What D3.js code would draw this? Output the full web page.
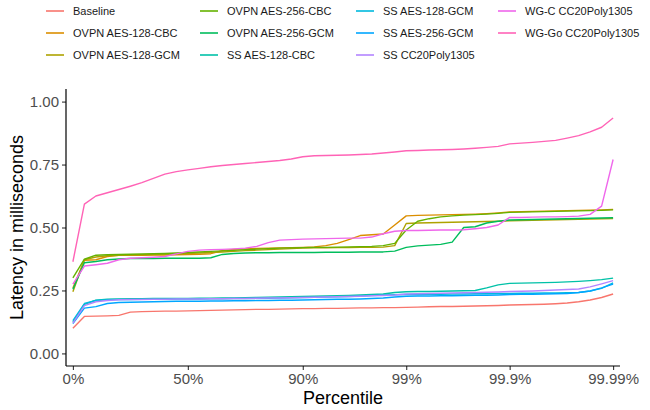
<!DOCTYPE html>
<html>
<head>
<meta charset="utf-8">
<script src="https://cdn.jsdelivr.net/npm/d3@7"></script>
<style>
    html, body { margin: 0; padding: 0; background: #fff; }
    svg { display: block; font-family: 'Liberation Sans', Arial, sans-serif; }
</style>
</head>
<body>
<div id="chart"></div>
<script>
// percentile categories (discrete x axis, 48 steps)
const percentiles = [
    '0', '5', '10', '15', '20', '25', '30', '35', '40', '45', '50',
    '54', '58', '62', '66', '70', '74', '78', '82', '86', '90',
    '91', '92', '93', '94', '95', '96', '97', '98', '99',
    '99.1', '99.2', '99.3', '99.4', '99.5', '99.6', '99.7', '99.8', '99.9',
    '99.91', '99.92', '99.93', '99.94', '99.95', '99.96', '99.97', '99.98', '99.99'
];
const xTicks = [ '0', '50', '90', '99', '99.9', '99.99' ];
const yTicks = [ 0, 0.25, 0.5, 0.75, 1 ];

const seriesNames = [
    'Baseline', 'OVPN AES-128-CBC', 'OVPN AES-128-GCM', 'OVPN AES-256-CBC',
    'OVPN AES-256-GCM', 'SS AES-128-CBC', 'SS AES-128-GCM', 'SS AES-256-GCM',
    'SS CC20Poly1305', 'WG-C CC20Poly1305', 'WG-Go CC20Poly1305'
];
const seriesColors = [
    '#F8766D', '#DB8E00', '#AEA200', '#64B200', '#00BD5C', '#00C1A7',
    '#00BADE', '#00A6FF', '#B385FF', '#EF67EB', '#FF63B6'
];

// latency in ms, one value per percentile
const baseline = [
    0.100, 0.147, 0.148, 0.149, 0.151, 0.164, 0.166, 0.167, 0.168, 0.168, 0.169,
    0.170, 0.171, 0.172, 0.173, 0.174, 0.175, 0.175, 0.176, 0.177, 0.178,
    0.178, 0.179, 0.179, 0.180, 0.181, 0.181, 0.182, 0.182, 0.183,
    0.184, 0.185, 0.186, 0.186, 0.187, 0.188, 0.189, 0.190, 0.192,
    0.193, 0.194, 0.195, 0.197, 0.200, 0.205, 0.212, 0.222, 0.236
];
const ovpnAes128Cbc = [
    0.260, 0.370, 0.372, 0.385, 0.390, 0.390, 0.390, 0.391, 0.391, 0.392, 0.393,
    0.394, 0.396, 0.408, 0.413, 0.415, 0.417, 0.418, 0.419, 0.420, 0.421,
    0.423, 0.428, 0.437, 0.452, 0.468, 0.471, 0.474, 0.510, 0.546,
    0.548, 0.549, 0.550, 0.551, 0.552, 0.553, 0.555, 0.558, 0.562,
    0.563, 0.564, 0.565, 0.566, 0.567, 0.568, 0.569, 0.570, 0.572
];
const ovpnAes128Gcm = [
    0.245, 0.372, 0.383, 0.388, 0.390, 0.391, 0.392, 0.393, 0.394, 0.395, 0.397,
    0.399, 0.401, 0.403, 0.405, 0.408, 0.410, 0.412, 0.414, 0.416, 0.418,
    0.419, 0.419, 0.420, 0.420, 0.421, 0.421, 0.422, 0.428, 0.516,
    0.518, 0.519, 0.520, 0.521, 0.522, 0.523, 0.524, 0.525, 0.527,
    0.528, 0.529, 0.530, 0.531, 0.532, 0.533, 0.534, 0.535, 0.536
];
const ovpnAes256Cbc = [
    0.300, 0.374, 0.390, 0.392, 0.393, 0.394, 0.395, 0.396, 0.397, 0.399, 0.401,
    0.403, 0.405, 0.407, 0.409, 0.412, 0.414, 0.416, 0.418, 0.419, 0.420,
    0.421, 0.421, 0.422, 0.423, 0.424, 0.425, 0.428, 0.437, 0.490,
    0.525, 0.535, 0.542, 0.546, 0.549, 0.551, 0.553, 0.556, 0.560,
    0.561, 0.562, 0.563, 0.564, 0.565, 0.566, 0.567, 0.568, 0.570
];
const ovpnAes256Gcm = [
    0.255, 0.360, 0.365, 0.372, 0.375, 0.377, 0.377, 0.377, 0.378, 0.378, 0.378,
    0.378, 0.380, 0.393, 0.397, 0.399, 0.400, 0.400, 0.401, 0.401, 0.401,
    0.401, 0.402, 0.402, 0.402, 0.403, 0.403, 0.403, 0.406, 0.421,
    0.427, 0.430, 0.433, 0.442, 0.500, 0.503, 0.518, 0.525, 0.530,
    0.531, 0.532, 0.533, 0.534, 0.535, 0.536, 0.537, 0.538, 0.539
];
const ssAes128Cbc = [
    0.125, 0.195, 0.211, 0.215, 0.216, 0.217, 0.217, 0.218, 0.218, 0.218, 0.218,
    0.219, 0.219, 0.220, 0.220, 0.221, 0.222, 0.223, 0.224, 0.225, 0.226,
    0.227, 0.228, 0.229, 0.230, 0.232, 0.234, 0.236, 0.242, 0.245,
    0.246, 0.246, 0.247, 0.248, 0.249, 0.250, 0.260, 0.272, 0.278,
    0.279, 0.280, 0.281, 0.282, 0.284, 0.286, 0.289, 0.293, 0.299
];
const ssAes128Gcm = [
    0.130, 0.198, 0.210, 0.213, 0.214, 0.214, 0.215, 0.215, 0.215, 0.216, 0.216,
    0.216, 0.217, 0.217, 0.218, 0.218, 0.219, 0.219, 0.220, 0.221, 0.222,
    0.223, 0.224, 0.225, 0.226, 0.228, 0.230, 0.232, 0.233, 0.234,
    0.234, 0.235, 0.235, 0.236, 0.236, 0.237, 0.237, 0.238, 0.238,
    0.239, 0.239, 0.240, 0.240, 0.241, 0.242, 0.248, 0.258, 0.280
];
const ssAes256Gcm = [
    0.118, 0.180, 0.186, 0.198, 0.202, 0.203, 0.204, 0.205, 0.206, 0.207, 0.207,
    0.207, 0.208, 0.208, 0.209, 0.209, 0.210, 0.210, 0.211, 0.211, 0.212,
    0.213, 0.214, 0.215, 0.215, 0.216, 0.218, 0.220, 0.224, 0.227,
    0.228, 0.228, 0.229, 0.229, 0.230, 0.231, 0.231, 0.232, 0.234,
    0.235, 0.235, 0.236, 0.237, 0.238, 0.242, 0.248, 0.260, 0.275
];
const ssCc20Poly1305 = [
    0.120, 0.190, 0.205, 0.210, 0.213, 0.214, 0.214, 0.215, 0.215, 0.216, 0.216,
    0.216, 0.217, 0.217, 0.218, 0.218, 0.219, 0.220, 0.220, 0.221, 0.222,
    0.223, 0.224, 0.225, 0.226, 0.227, 0.229, 0.230, 0.232, 0.236,
    0.237, 0.238, 0.239, 0.240, 0.241, 0.242, 0.243, 0.244, 0.246,
    0.247, 0.248, 0.250, 0.252, 0.254, 0.256, 0.264, 0.276, 0.289
];
const wgCCc20Poly1305 = [
    0.275, 0.347, 0.352, 0.358, 0.372, 0.378, 0.380, 0.382, 0.385, 0.395, 0.405,
    0.410, 0.412, 0.413, 0.415, 0.418, 0.425, 0.440, 0.450, 0.452, 0.454,
    0.455, 0.456, 0.457, 0.458, 0.458, 0.462, 0.475, 0.485, 0.488,
    0.488, 0.489, 0.490, 0.490, 0.491, 0.495, 0.500, 0.510, 0.540,
    0.540, 0.541, 0.542, 0.542, 0.543, 0.545, 0.552, 0.585, 0.770
];
const wgGoCc20Poly1305 = [
    0.364, 0.593, 0.625, 0.638, 0.651, 0.664, 0.678, 0.695, 0.712, 0.722, 0.729,
    0.735, 0.741, 0.746, 0.750, 0.754, 0.758, 0.762, 0.766, 0.772, 0.781,
    0.785, 0.786, 0.787, 0.788, 0.790, 0.792, 0.796, 0.800, 0.805,
    0.806, 0.808, 0.809, 0.810, 0.812, 0.815, 0.818, 0.822, 0.832,
    0.835, 0.838, 0.842, 0.846, 0.855, 0.865, 0.880, 0.898, 0.935
];

const seriesValues = [
    baseline, ovpnAes128Cbc, ovpnAes128Gcm, ovpnAes256Cbc, ovpnAes256Gcm,
    ssAes128Cbc, ssAes128Gcm, ssAes256Gcm, ssCc20Poly1305,
    wgCCc20Poly1305, wgGoCc20Poly1305
];

const width = 650;
const height = 410;
const margin = { top: 89, right: 30, bottom: 44, left: 66 };
const innerWidth = width - margin.left - margin.right;
const innerHeight = height - margin.top - margin.bottom;

const svg = d3.select( '#chart' ).append( 'svg' )
    .attr( 'width', width )
    .attr( 'height', height )
    .style( 'background-color', '#fff' );

const chart = svg.append( 'g' )
    .attr( 'transform', `translate(${ margin.left }, ${ margin.top })` );

// discrete x scale, ggplot style 0.6 step expansion
const xScale = d3.scalePoint()
    .domain( percentiles )
    .range( [ 0, innerWidth ] )
    .padding( 0.6 );

const yScale = d3.scaleLinear()
    .domain( [ -0.05, 1.05 ] )
    .range( [ innerHeight, 0 ] );

const xAxis = d3.axisBottom( xScale )
    .tickValues( xTicks )
    .tickFormat( d => d + '%' )
    .tickSizeOuter( 0 )
    .tickSizeInner( 4 )
    .tickPadding( 3 );

const yAxis = d3.axisLeft( yScale )
    .tickValues( yTicks )
    .tickFormat( d3.format( '.2f' ) )
    .tickSizeOuter( 0 )
    .tickSizeInner( 4 )
    .tickPadding( 3 );

const xG = chart.append( 'g' )
    .attr( 'transform', `translate(0, ${ innerHeight })` )
    .call( xAxis );

const yG = chart.append( 'g' )
    .call( yAxis );

[ xG, yG ].forEach( g => {
    g.select( '.domain' ).remove();
    g.selectAll( '.tick line' ).attr( 'stroke', '#333' ).attr( 'stroke-width', 1.1 );
    g.selectAll( '.tick text' )
        .attr( 'fill', '#4D4D4D' )
        .style( 'font-size', '15px' )
        .style( 'font-family', "'Liberation Sans', Arial, sans-serif" );
} );

// axis lines (classic theme)
chart.append( 'line' )
    .attr( 'x1', 0 ).attr( 'x2', innerWidth )
    .attr( 'y1', innerHeight ).attr( 'y2', innerHeight )
    .attr( 'stroke', '#000' ).attr( 'stroke-width', 1.2 );
chart.append( 'line' )
    .attr( 'x1', 0 ).attr( 'x2', 0 )
    .attr( 'y1', 0 ).attr( 'y2', innerHeight )
    .attr( 'stroke', '#000' ).attr( 'stroke-width', 1.2 );

const line = d3.line()
    .x( ( d, i ) => xScale( percentiles[ i ] ) )
    .y( d => yScale( d ) );

chart.selectAll( '.series' )
    .data( seriesValues )
    .enter()
    .append( 'path' )
    .attr( 'class', 'series' )
    .attr( 'fill', 'none' )
    .attr( 'stroke', ( d, i ) => seriesColors[ i ] )
    .attr( 'stroke-width', 1.4 )
    .attr( 'stroke-linejoin', 'round' )
    .attr( 'd', d => line( d ) );

// axis titles
svg.append( 'text' )
    .attr( 'x', margin.left + innerWidth / 2 )
    .attr( 'y', 404 )
    .attr( 'text-anchor', 'middle' )
    .style( 'font-size', '18px' )
    .text( 'Percentile' );

svg.append( 'text' )
    .attr( 'transform', `translate(23, ${ margin.top + innerHeight / 2 }) rotate(-90)` )
    .attr( 'text-anchor', 'middle' )
    .style( 'font-size', '18px' )
    .text( 'Latency in milliseconds' );

// legend: 3 rows, filled column by column
const legendColX = [ 46, 200, 356, 498 ];
const legendRowY = [ 11, 33, 55 ];

const legend = svg.append( 'g' ).attr( 'class', 'legend' );

const items = legend.selectAll( '.item' )
    .data( seriesNames )
    .enter()
    .append( 'g' )
    .attr( 'class', 'item' )
    .attr( 'transform', ( d, i ) => `translate(${ legendColX[ Math.floor( i / 3 ) ] }, ${ legendRowY[ i % 3 ] })` );

items.append( 'line' )
    .attr( 'x1', 0 ).attr( 'x2', 18 )
    .attr( 'stroke', ( d, i ) => seriesColors[ i ] )
    .attr( 'stroke-width', 1.6 );

items.append( 'text' )
    .attr( 'x', 27 )
    .attr( 'dy', '0.35em' )
    .attr( 'fill', '#1a1a1a' )
    .style( 'font-size', '11px' )
    .text( d => d );
</script>
</body>
</html>
